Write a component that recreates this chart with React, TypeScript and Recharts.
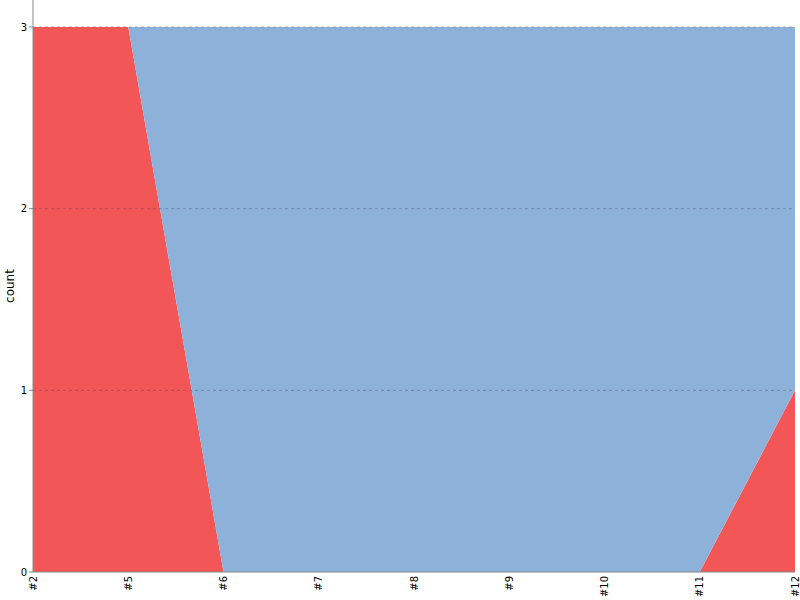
import { AreaChart, Area, XAxis, YAxis, ReferenceLine } from 'recharts';

const categories = ['#2', '#5', '#6', '#7', '#8', '#9', '#10', '#11', '#12'];
const redCounts = [3, 3, 0, 0, 0, 0, 0, 0, 1];
const blueCounts = [0, 0, 3, 3, 3, 3, 3, 3, 2];
const yTicks = [0, 1, 2, 3];

const data = categories.map((name, i) => ({
  name,
  red: redCounts[i],
  blue: blueCounts[i],
}));

const font = 'DejaVu Sans, sans-serif';

// rotated category label, centred on its tick
function CategoryTick({ x, y, payload }: any) {
  return (
    <text
      x={x}
      y={y}
      transform={`rotate(-90, ${x}, ${y})`}
      textAnchor="end"
      dominantBaseline="central"
      fill="#000"
      fontSize={10}
      fontFamily={font}
    >
      {payload.value}
    </text>
  );
}

export default function App() {
  return (
    <div style={{ width: 800, height: 600 }}>
      <style>{'body { margin: 0; }'}</style>
      <AreaChart
        width={800}
        height={600}
        data={data}
        margin={{ top: 0, right: 5, left: 0, bottom: 0 }}
      >
        <XAxis
          dataKey="name"
          interval={0}
          height={28}
          tickLine={false}
          tickSize={0}
          tickMargin={4}
          stroke="#888"
          tick={<CategoryTick />}
        />
        <YAxis
          width={33}
          domain={[0, 3.1486]}
          ticks={yTicks}
          allowDataOverflow
          stroke="#888"
          tickSize={4}
          tick={{ fill: '#000', fontSize: 10, fontFamily: font }}
          label={{
            value: 'count',
            angle: -90,
            position: 'insideLeft',
            offset: 10,
            style: { fill: '#000', fontSize: 12, fontFamily: font, textAnchor: 'middle' },
          }}
        />
        <Area
          type="linear"
          dataKey="red"
          stackId="a"
          stroke="none"
          fill="#f25656"
          fillOpacity={1}
          isAnimationActive={false}
        />
        <Area
          type="linear"
          dataKey="blue"
          stackId="a"
          stroke="none"
          fill="#8eb1da"
          fillOpacity={1}
          isAnimationActive={false}
        />
        {yTicks.slice(1).map((t) => (
          <ReferenceLine
            key={t}
            y={t}
            stroke="#445"
            strokeOpacity={0.35}
            strokeDasharray="3 3"
          />
        ))}
      </AreaChart>
    </div>
  );
}
